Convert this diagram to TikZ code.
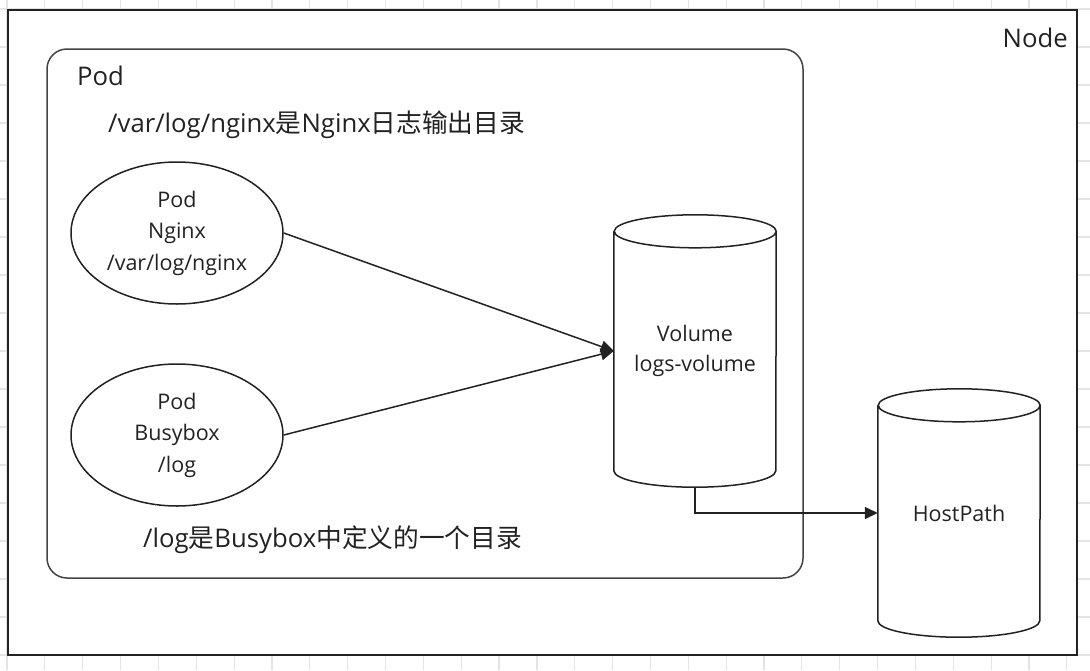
\documentclass[tikz,border=0pt]{standalone}
\usepackage{fontspec}
\setmainfont{Open Sans}
\newfontfamily\cjk{Noto Sans CJK SC}
\usetikzlibrary{shapes.geometric,arrows.meta}
\definecolor{inkgray}{HTML}{222222}
\definecolor{gridgray}{HTML}{E4E4E4}
\tikzset{
  gridline/.style={draw=gridgray, line width=1.2pt},
  label/.style={inner sep=0pt, text=inkgray, font=\fontsize{25.7}{30}\selectfont},
  pod/.style={ellipse, draw=inkgray, line width=1.5pt, minimum width=212pt,
    minimum height=142pt, inner sep=0pt, align=center, text=inkgray,
    font=\fontsize{21.5}{31.5}\selectfont},
  store/.style={rectangle, minimum width=162pt, minimum height=272pt, inner sep=0pt,
    align=center, text=inkgray, font=\fontsize{21.5}{30}\selectfont},
  storeline/.style={draw=inkgray, line width=1.5pt},
  flow/.style={-{Triangle[length=13pt,width=12pt]}, line width=1.5pt, draw=inkgray},
}
% cylinder outline round a store node
\newcommand{\drawstore}[1]{%
  \draw[storeline] ([yshift=-16.5pt]#1.north west) -- ([yshift=16.5pt]#1.south west)
    arc[start angle=180, end angle=360, x radius=81pt, y radius=16.5pt]
    -- ([yshift=-16.5pt]#1.north east)
    arc[start angle=0, end angle=360, x radius=81pt, y radius=16.5pt];}
\begin{document}
\begin{tikzpicture}[x=1pt,y=-1pt]
\useasboundingbox (0,0) rectangle (1090,670);
% background grid
\foreach \i in {0,...,28} \draw[gridline] ({7+37.85*\i},0) -- ++(0,670);
\foreach \j in {0,...,17} \draw[gridline] (0,{9+38*\j}) -- ++(1090,0);
% node and pod frames
\draw[fill=white, draw=inkgray, line width=2pt] (8,10) rectangle (1077,655);
\draw[draw=inkgray!85, line width=1.5pt, rounded corners=20pt] (47,49) rectangle (803,578);
\node[label, anchor=base east] (nodetitle) at (1068,47) {Node};
\node[label, anchor=base west] (podtitle) at (77,85) {Pod};
\node[label, anchor=base west] (nginxnote) at (108,132) {/var/log/nginx{\cjk 是}Nginx{\cjk 日志输出目录}};
\node[label, anchor=base west] (busynote) at (143,547) {/log{\cjk 是}Busybox{\cjk 中定义的一个目录}};
% pods and volumes
\node[pod] (nginx) at (177,233) {Pod\\Nginx\\/var/log/nginx};
\node[pod] (busybox) at (177,435) {Pod\\Busybox\\/log};
\node[store] (volume) at (695,351) {Volume\\logs-volume};
\node[store, minimum height=248pt] (hostpath) at (959,513) {HostPath};
\drawstore{volume}
\drawstore{hostpath}
\draw[flow] (nginx.east) -- (volume.west);
\draw[flow] (busybox.east) -- (volume.west);
\draw[flow] (volume.south) |- (hostpath.west);
\end{tikzpicture}
\end{document}
